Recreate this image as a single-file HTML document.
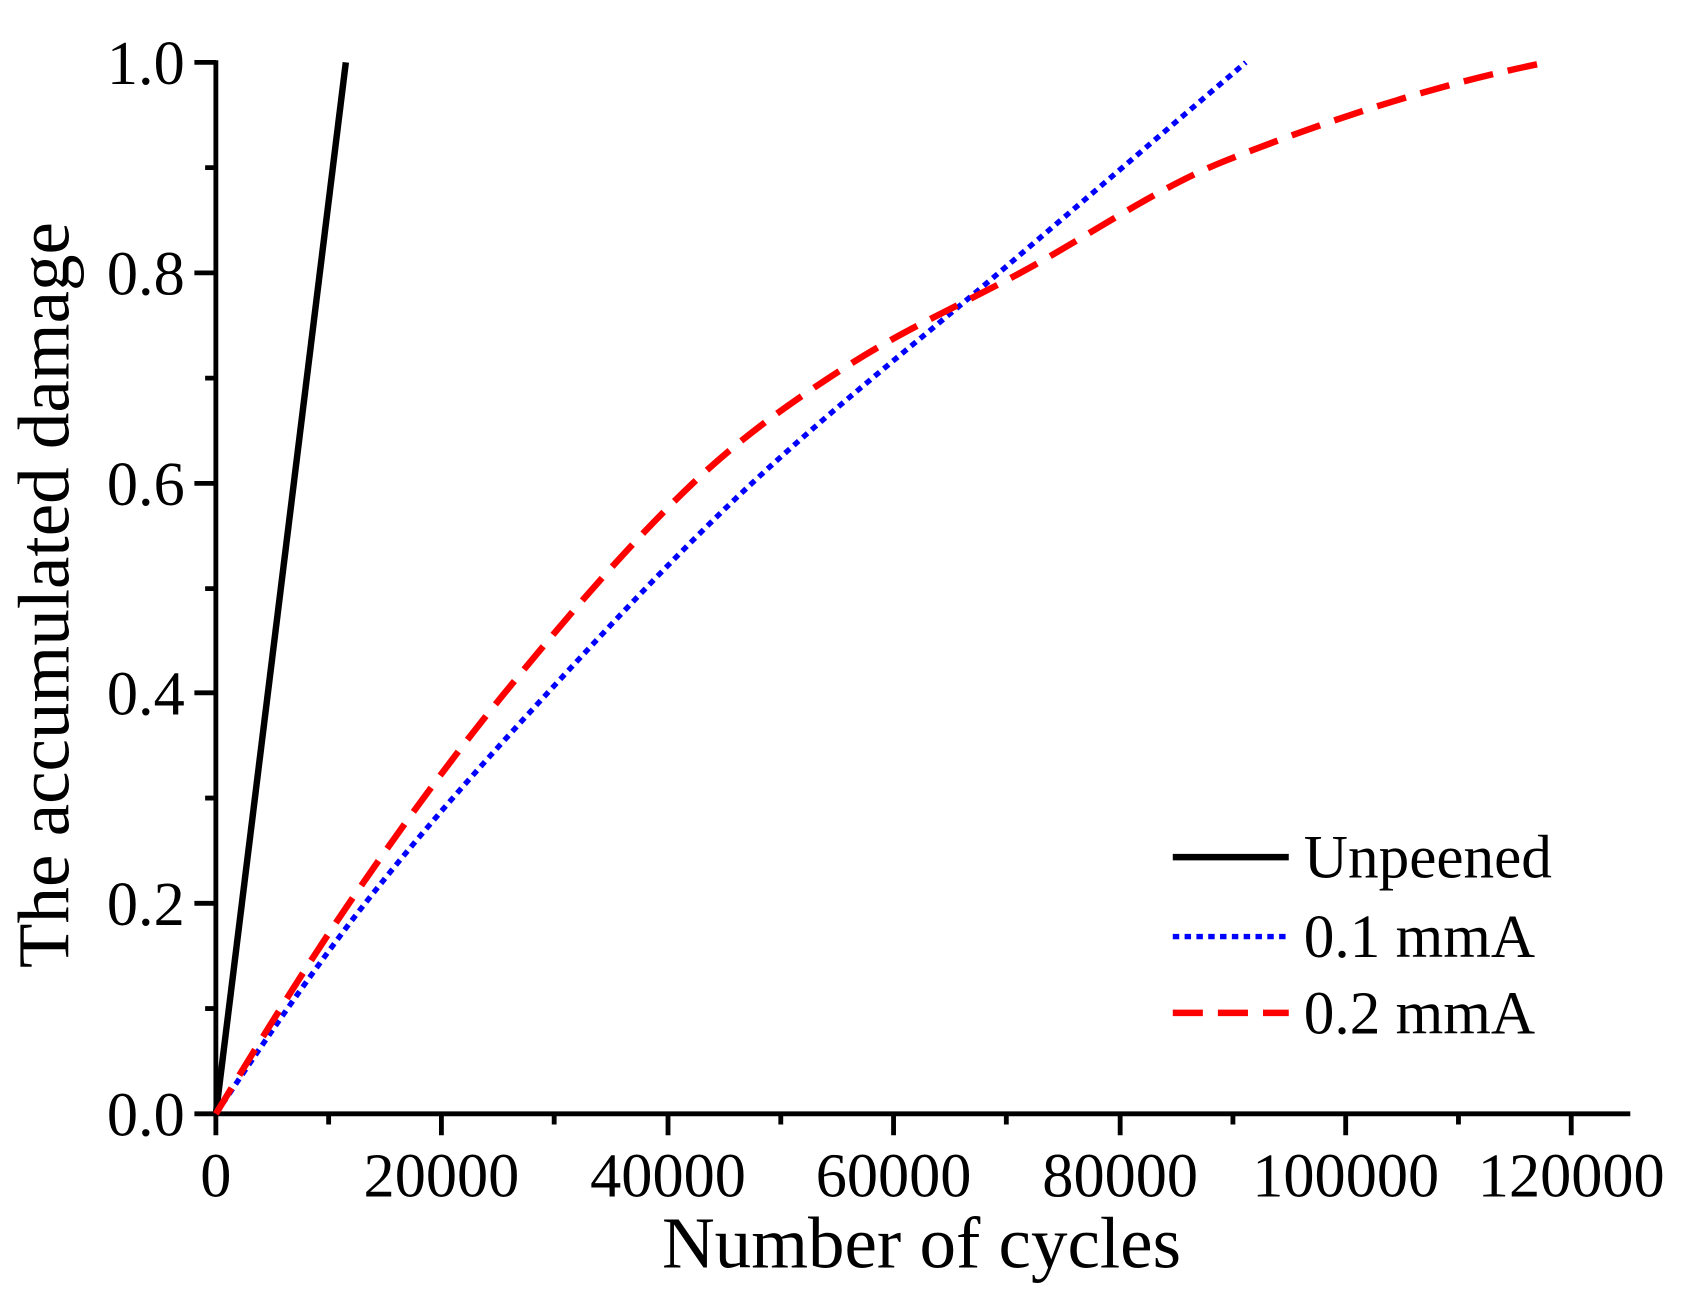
<!DOCTYPE html>
<html><head><meta charset="utf-8"><style>html,body{margin:0;padding:0;background:#fff}svg{display:block}</style></head>
<body>
<svg width="1684" height="1304" viewBox="0 0 1568 1214" xmlns="http://www.w3.org/2000/svg" font-family="Liberation Serif, serif">
<rect width="1568" height="1214" fill="#fff"/>
<g stroke="#000" stroke-width="4.5" fill="none">
<line x1="201" y1="56" x2="201" y2="1039"/>
<line x1="199" y1="1037" x2="1518" y2="1037"/>
<path d="M181 1037H201M181 841H201M181 645H201M181 450H201M181 254H201M181 58H201"/>
<path d="M191 939H201M191 743H201M191 548H201M191 352H201M191 156H201"/>
<path d="M201 1037V1057M411 1037V1057M622 1037V1057M832 1037V1057M1043 1037V1057M1253 1037V1057M1463 1037V1057"/>
<path d="M306 1037V1047M516 1037V1047M727 1037V1047M937 1037V1047M1148 1037V1047M1358 1037V1047"/>
</g>
<g font-size="58" fill="#000" text-anchor="end">
<text x="172" y="1057">0.0</text><text x="172" y="861">0.2</text><text x="172" y="665">0.4</text><text x="172" y="470">0.6</text><text x="172" y="274">0.8</text><text x="172" y="78">1.0</text>
</g>
<g font-size="58" fill="#000" text-anchor="middle">
<text x="201" y="1114">0</text><text x="411" y="1114">20000</text><text x="622" y="1114">40000</text><text x="832" y="1114">60000</text><text x="1043" y="1114">80000</text><text x="1253" y="1114">100000</text><text x="1463" y="1114">120000</text>
</g>
<text x="858" y="1180" font-size="68" text-anchor="middle">Number of cycles</text>
<text transform="translate(64,554) rotate(-90)" font-size="68" text-anchor="middle">The accumulated damage</text>
<line x1="201" y1="1037" x2="322" y2="58" stroke="#000" stroke-width="6"/>
<path d="M201 1037 C247.3 967.5 293.7 899.8 340 841 C396.7 769 453.3 706.6 510 645 C573.3 576.3 636.7 508.9 700 450 C776.7 378.7 853.3 319.2 930 254 C1006.7 188.8 1083.3 123.2 1160 58" stroke="#0000ff" stroke-width="5" fill="none" stroke-dasharray="6 5"/>
<path d="M201 1037 C242.3 968.8 283.7 901.4 325 841 C373.3 770.5 421.7 703.9 470 645 C528.3 573.8 586.7 505.4 645 450 C693.3 404.1 741.7 370.9 790 340 C843.3 305.9 896.7 282.8 950 254 C1013.3 219.8 1076.7 175.3 1140 150 C1240 110 1340 78 1440 58" stroke="#ff0000" stroke-width="6" fill="none" stroke-dasharray="28 14"/>
<line x1="1092" y1="798" x2="1200" y2="798" stroke="#000" stroke-width="6"/>
<line x1="1092" y1="872" x2="1200" y2="872" stroke="#0000ff" stroke-width="5" stroke-dasharray="6 5"/>
<line x1="1092" y1="943" x2="1200" y2="943" stroke="#ff0000" stroke-width="6" stroke-dasharray="28 14"/>
<g font-size="57" fill="#000">
<text x="1214" y="817">Unpeened</text><text x="1214" y="891">0.1 mmA</text><text x="1214" y="962">0.2 mmA</text>
</g>
</svg>
</body></html>
